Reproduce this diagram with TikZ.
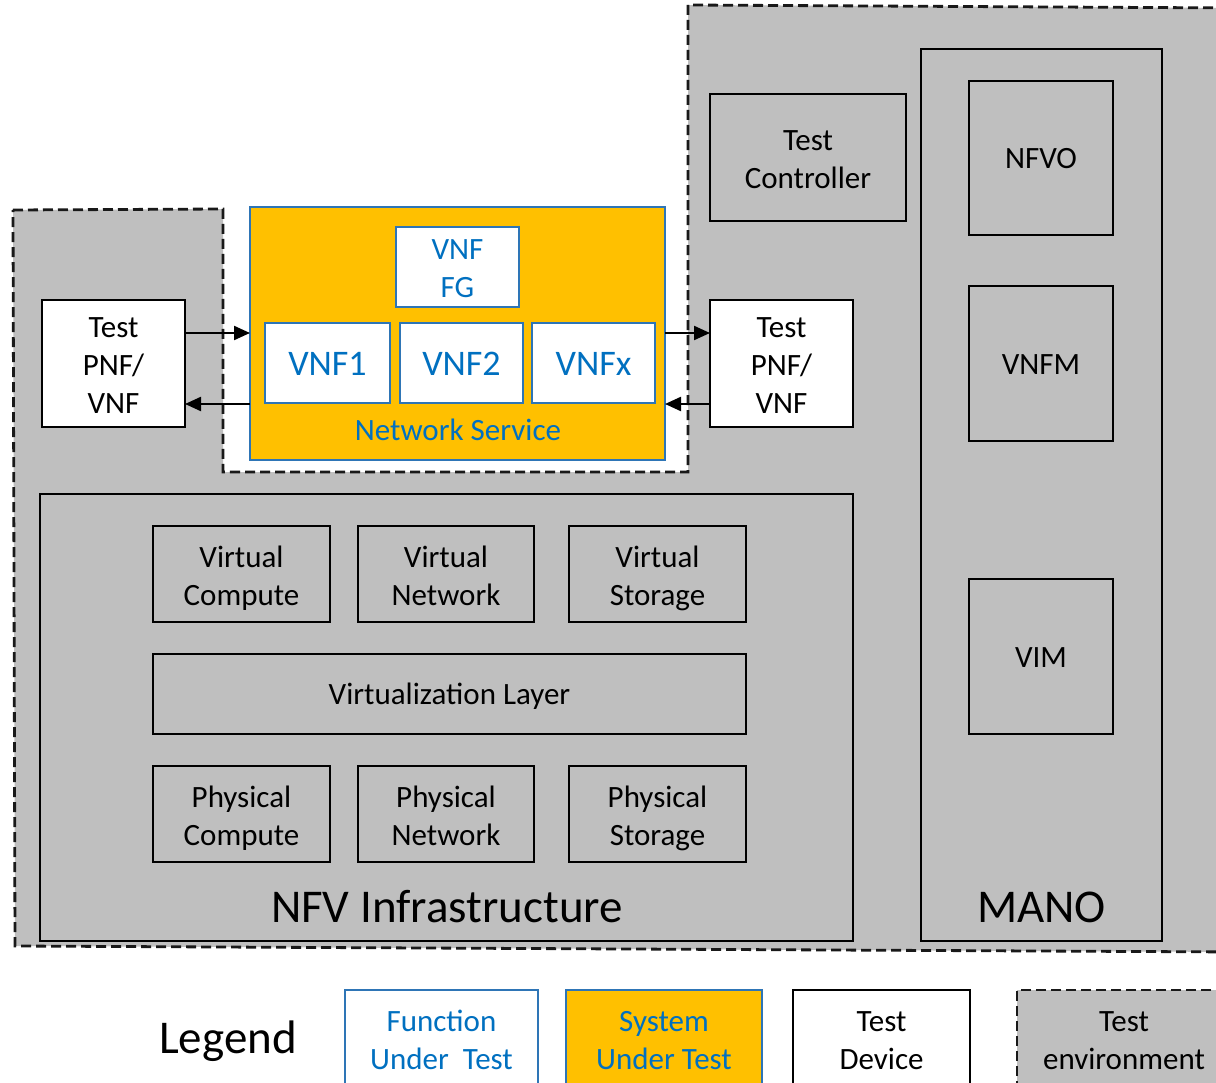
\documentclass[tikz,border=0pt]{standalone}
\usepackage{fontspec}
\setmainfont{Carlito}
\usetikzlibrary{arrows.meta}
\definecolor{envgray}{HTML}{BFBFBF}
\definecolor{sutorange}{HTML}{FFC000}
\definecolor{futblue}{HTML}{0070C0}
\definecolor{futborder}{HTML}{2E75B6}
\newcommand{\botstrut}{\rule[-6pt]{0pt}{6pt}}
\begin{document}
\begin{tikzpicture}[x=1pt,y=-1pt,
  txt/.style={font=\fontsize{31}{38}\selectfont, align=center, inner sep=0pt, outer sep=0pt,
    execute at begin node={\rule{0pt}{27.5pt}}, execute at end node=\botstrut},
  multi/.style={text height=62pt, text depth=0pt},
  multiiii/.style={text height=100pt, text depth=0pt},
  big/.style={txt, font=\fontsize{47}{56}\selectfont, execute at begin node={\rule{0pt}{40pt}}},
  bx/.style={txt, draw=black, line width=2.6pt, fill=envgray},
  dev/.style={bx, fill=white},
  fut/.style={txt, draw=futborder, line width=2.4pt, fill=white, text=futblue},
  sut/.style={txt, draw=futborder, line width=2.4pt, fill=sutorange, text=futblue},
  vnf/.style={fut, font=\fontsize{36}{42}\selectfont, execute at begin node={\rule{0pt}{31.5pt}}},
  env/.style={draw=black!90, fill=envgray, line width=2.8pt, dash pattern=on 10pt off 5pt},
  arr/.style={-{Triangle[length=16pt,width=14pt]}, line width=2.2pt}]
\useasboundingbox (0,0) rectangle (1216,1083);
\clip (0,0) rectangle (1216,1083);
\fill[white] (0,0) rectangle (1216,1083);
% test environment
\draw[env] (13,210) -- (223,209) -- (223,472) -- (688,472) -- (688,5) -- (1240,8) -- (1240,952) -- (15,946) -- cycle;
% network service
\node[sut, minimum width=415, minimum height=253] (ns) at (457.5,333.5) {};
\node[txt, text=futblue] (nslabel) at (458,430) {Network Service};
\node[fut, multi, minimum width=123, minimum height=80] (vnffg) at (457.5,267) {VNF\\FG};
\node[vnf, minimum width=125, minimum height=80] (vnf1) at (327.5,363) {VNF1};
\node[vnf, minimum width=123, minimum height=80] (vnf2) at (461.5,363) {VNF2};
\node[vnf, minimum width=123, minimum height=80] (vnfx) at (593.5,363) {VNFx};
% test devices
\node[dev, multiiii, minimum width=143, minimum height=127] (tl) at (113.5,363.5) {Test\\PNF/\\VNF};
\node[dev, multiiii, minimum width=143, minimum height=127] (tr) at (781.5,363.5) {Test\\PNF/\\VNF};
\path ([yshift=30.5pt]tl.east) coordinate (la) ([yshift=-40.5pt]tl.east) coordinate (lb)
      ([yshift=30.5pt]tr.west) coordinate (ra) ([yshift=-40.5pt]tr.west) coordinate (rb);
\draw[arr] (la) -- (la -| ns.west);
\draw[arr] (lb -| ns.west) -- (lb);
\draw[arr] (ra -| ns.east) -- (ra);
\draw[arr] (rb) -- (rb -| ns.east);
% test controller
\node[bx, multi, minimum width=196, minimum height=127] (tc) at (808,157.5) {Test\\Controller};
% MANO
\node[bx, minimum width=241, minimum height=892] (mano) at (1041.5,495) {};
\node[big] (manolabel) at (1041.5,905) {MANO};
\node[bx, minimum width=144, minimum height=154] (nfvo) at (1041,158) {NFVO};
\node[bx, minimum width=144, minimum height=155] (vnfm) at (1041,363.5) {VNFM};
\node[bx, minimum width=144, minimum height=155] (vim) at (1041,656.5) {VIM};
% NFVI
\node[bx, minimum width=813, minimum height=447] (nfvi) at (446.5,717.5) {};
\node[big] (nfvilabel) at (447,905) {NFV Infrastructure};
\node[bx, multi, minimum width=177, minimum height=96] (vc) at (241.5,574) {Virtual\\Compute};
\node[bx, multi, minimum width=176, minimum height=96] (vn) at (446,574) {Virtual\\Network};
\node[bx, multi, minimum width=177, minimum height=96] (vs) at (657.5,574) {Virtual\\Storage};
\node[bx, minimum width=593, minimum height=80] (vl) at (449.5,694) {Virtualization Layer};
\node[bx, multi, minimum width=177, minimum height=96] (pc) at (241.5,814) {Physical\\Compute};
\node[bx, multi, minimum width=176, minimum height=96] (pn) at (446,814) {Physical\\Network};
\node[bx, multi, minimum width=177, minimum height=96] (ps) at (657.5,814) {Physical\\Storage};
% legend
\node[big] (legend) at (228,1038) {Legend};
\node[fut, multi, minimum width=193, minimum height=96] (lfut) at (441.5,1038) {Function\\Under~ Test};
\node[sut, multi, minimum width=196, minimum height=96] (lsut) at (664,1038) {System\\Under Test};
\node[dev, multi, minimum width=177, minimum height=96] (ldev) at (881.5,1038) {Test\\Device};
\node[txt, env, multi, minimum width=214, minimum height=96] (lenv) at (1124,1038) {Test\\environment};
\end{tikzpicture}
\end{document}
